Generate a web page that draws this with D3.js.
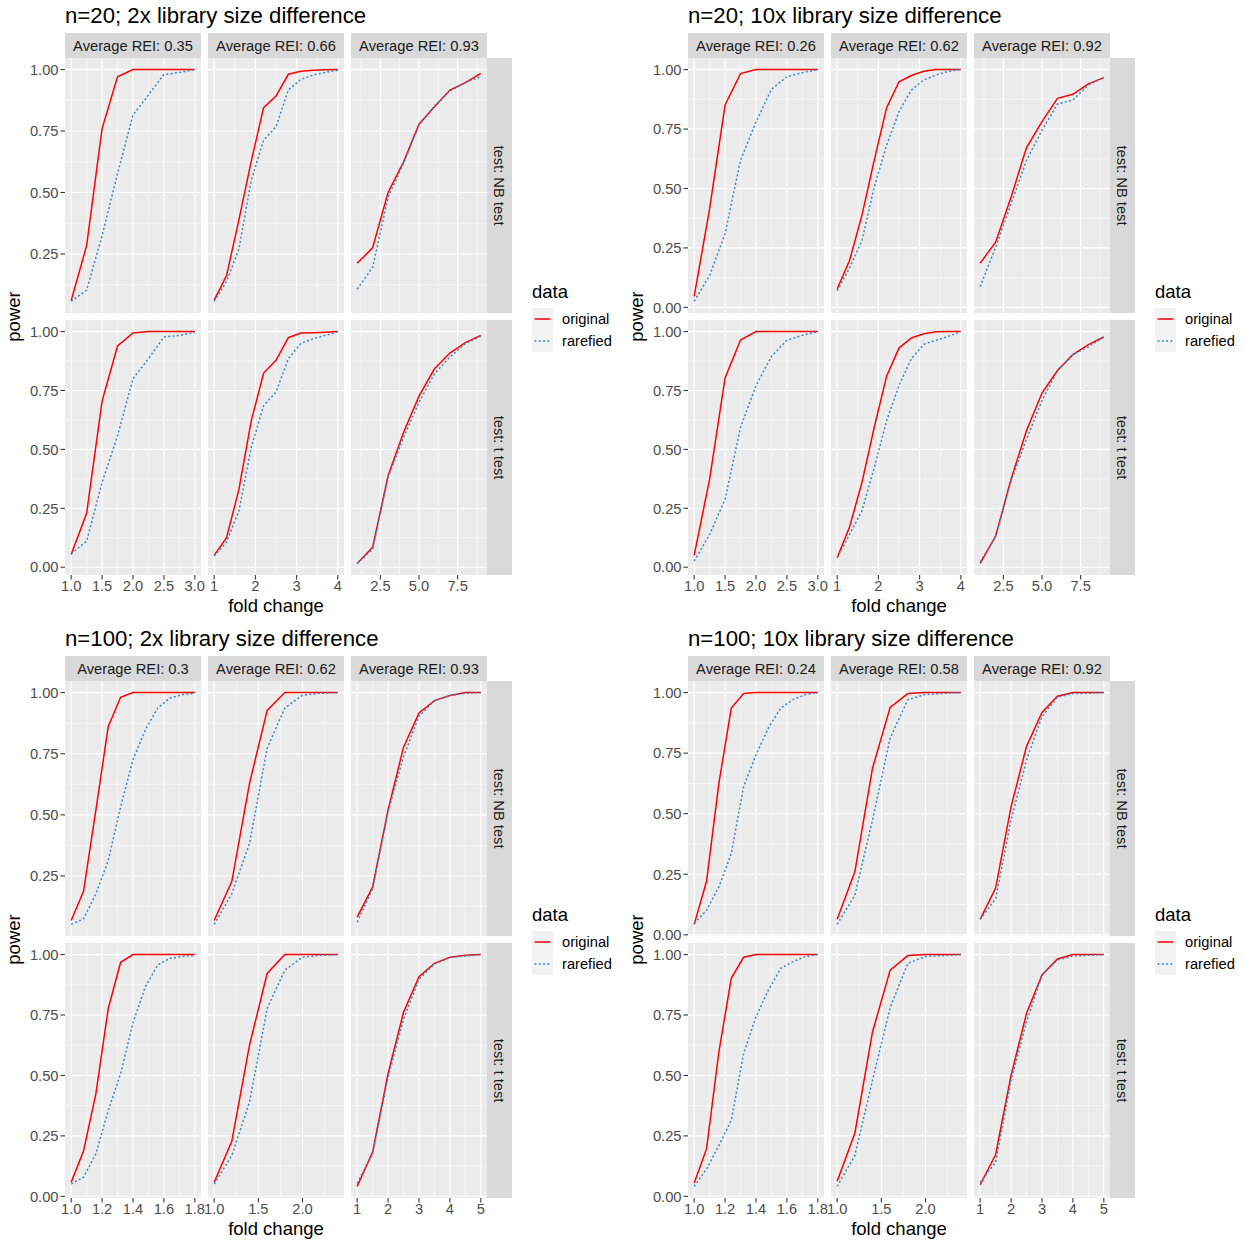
<!DOCTYPE html>
<html>
<head>
<meta charset="utf-8">
<script src="https://cdn.jsdelivr.net/npm/d3@7"></script>
<style>
body { margin: 0; background: #fff; }
text { font-family: "Liberation Sans", Arial, sans-serif; }
</style>
</head>
<body>
<div id="chart"></div>
<script>
// power curves, original vs rarefied, 4 ggplot-style facet grids

var titles = ["n=20; 2x library size difference", "n=20; 10x library size difference",
              "n=100; 2x library size difference", "n=100; 10x library size difference"];
var reiLabels = [[0.35, 0.66, 0.93], [0.26, 0.62, 0.92], [0.3, 0.62, 0.93], [0.24, 0.58, 0.92]];
var tests = ["NB test", "t test"];
var seriesNames = ["original", "rarefied"];

// fold change values per column
var xN20 = [
    [1, 1.25, 1.5, 1.75, 2, 2.25, 2.5, 2.75, 3],
    [1, 1.3, 1.6, 1.9, 2.2, 2.5, 2.8, 3.1, 3.4, 3.7, 4],
    [1, 2, 3, 4, 5, 6, 7, 8, 9]
];
var xN100 = [
    [1, 1.08, 1.16, 1.24, 1.32, 1.4, 1.48, 1.56, 1.64, 1.72, 1.8],
    [1, 1.2, 1.4, 1.6, 1.8, 2, 2.2, 2.4],
    [1, 1.5, 2, 2.5, 3, 3.5, 4, 4.5, 5]
];
var xTicksN20 = [[1, 1.5, 2, 2.5, 3], [1, 2, 3, 4], [2.5, 5, 7.5]];
var xLabelsN20 = [["1.0", "1.5", "2.0", "2.5", "3.0"], ["1", "2", "3", "4"], ["2.5", "5.0", "7.5"]];
var xTicksN100 = [[1, 1.2, 1.4, 1.6, 1.8], [1, 1.5, 2], [1, 2, 3, 4, 5]];
var xLabelsN100 = [["1.0", "1.2", "1.4", "1.6", "1.8"], ["1.0", "1.5", "2.0"], ["1", "2", "3", "4", "5"]];
var yTicks = [0, 0.25, 0.5, 0.75, 1];
var yLabels = ["0.00", "0.25", "0.50", "0.75", "1.00"];

// power values: [test][column]
var q1Original = [
    [[0.06, 0.284, 0.76, 0.971, 1, 1, 1, 1, 1],
     [0.062, 0.162, 0.389, 0.628, 0.845, 0.892, 0.981, 0.993, 0.997, 0.999, 1],
     [0.212, 0.275, 0.5, 0.624, 0.778, 0.849, 0.917, 0.947, 0.985]],
    [[0.054, 0.229, 0.705, 0.939, 0.994, 1, 1, 1, 1],
     [0.05, 0.125, 0.33, 0.622, 0.824, 0.878, 0.974, 0.994, 0.995, 0.997, 1],
     [0.016, 0.085, 0.388, 0.572, 0.726, 0.842, 0.909, 0.953, 0.984]]
];
var q1Rarefied = [
    [[0.057, 0.103, 0.325, 0.577, 0.815, 0.897, 0.98, 0.988, 1],
     [0.057, 0.138, 0.27, 0.55, 0.713, 0.767, 0.917, 0.96, 0.978, 0.989, 0.997],
     [0.107, 0.196, 0.481, 0.618, 0.774, 0.852, 0.913, 0.947, 0.971]],
    [[0.057, 0.111, 0.36, 0.558, 0.8, 0.885, 0.977, 0.984, 0.997],
     [0.047, 0.107, 0.239, 0.509, 0.686, 0.743, 0.885, 0.949, 0.97, 0.984, 0.999],
     [0.016, 0.075, 0.381, 0.551, 0.7, 0.821, 0.892, 0.949, 0.98]]
];
var q2Original = [
    [[0.046, 0.415, 0.851, 0.983, 1, 1, 1, 1, 1],
     [0.077, 0.197, 0.387, 0.619, 0.84, 0.949, 0.975, 0.993, 1, 1, 1],
     [0.186, 0.274, 0.464, 0.672, 0.781, 0.879, 0.896, 0.94, 0.966]],
    [[0.05, 0.374, 0.803, 0.964, 1, 1, 1, 1, 1],
     [0.04, 0.17, 0.359, 0.594, 0.811, 0.93, 0.973, 0.991, 0.999, 1, 1],
     [0.016, 0.132, 0.374, 0.58, 0.739, 0.835, 0.902, 0.945, 0.977]]
];
var q2Rarefied = [
    [[0.025, 0.134, 0.31, 0.619, 0.78, 0.917, 0.97, 0.987, 1],
     [0.07, 0.166, 0.281, 0.506, 0.682, 0.823, 0.914, 0.956, 0.977, 0.993, 1],
     [0.087, 0.253, 0.436, 0.619, 0.745, 0.855, 0.872, 0.935, 0.966]],
    [[0.026, 0.139, 0.288, 0.594, 0.771, 0.895, 0.963, 0.984, 1],
     [0.04, 0.139, 0.239, 0.423, 0.622, 0.771, 0.885, 0.946, 0.963, 0.98, 1],
     [0.023, 0.128, 0.366, 0.544, 0.707, 0.835, 0.903, 0.935, 0.977]]
];
var q3Original = [
    [[0.068, 0.187, 0.52, 0.862, 0.981, 1, 1, 1, 1, 1, 1],
     [0.068, 0.228, 0.629, 0.927, 1, 1, 1, 1],
     [0.082, 0.205, 0.52, 0.777, 0.917, 0.967, 0.988, 1, 1]],
    [[0.058, 0.187, 0.425, 0.777, 0.968, 1, 1, 1, 1, 1, 1],
     [0.058, 0.228, 0.625, 0.922, 1, 1, 1, 1],
     [0.041, 0.183, 0.508, 0.761, 0.909, 0.964, 0.989, 0.997, 1]]
];
var q3Rarefied = [
    [[0.052, 0.075, 0.177, 0.314, 0.533, 0.725, 0.848, 0.937, 0.978, 0.992, 0.997],
     [0.052, 0.178, 0.383, 0.773, 0.937, 0.989, 0.997, 1],
     [0.061, 0.198, 0.513, 0.739, 0.903, 0.967, 0.988, 0.997, 1]],
    [[0.051, 0.079, 0.176, 0.355, 0.508, 0.718, 0.867, 0.957, 0.985, 0.992, 0.997],
     [0.051, 0.169, 0.39, 0.777, 0.936, 0.989, 0.997, 1],
     [0.054, 0.176, 0.494, 0.732, 0.898, 0.961, 0.988, 0.994, 1]]
];
var q4Original = [
    [[0.043, 0.221, 0.626, 0.936, 0.996, 1, 1, 1, 1, 1, 1],
     [0.064, 0.26, 0.688, 0.939, 0.996, 1, 1, 1],
     [0.064, 0.193, 0.529, 0.778, 0.918, 0.985, 1, 1, 1]],
    [[0.055, 0.196, 0.598, 0.902, 0.989, 1, 1, 1, 1, 1, 1],
     [0.062, 0.261, 0.68, 0.936, 0.996, 1, 1, 1],
     [0.048, 0.173, 0.501, 0.757, 0.916, 0.982, 1, 1, 1]]
];
var q4Rarefied = [
    [[0.048, 0.101, 0.198, 0.336, 0.612, 0.743, 0.854, 0.936, 0.971, 0.992, 1],
     [0.043, 0.163, 0.474, 0.812, 0.971, 0.992, 0.997, 1],
     [0.064, 0.149, 0.474, 0.722, 0.902, 0.981, 0.996, 0.997, 1]],
    [[0.041, 0.113, 0.21, 0.314, 0.591, 0.743, 0.853, 0.943, 0.971, 0.992, 1],
     [0.041, 0.169, 0.48, 0.781, 0.964, 0.992, 0.996, 1],
     [0.058, 0.141, 0.48, 0.722, 0.916, 0.978, 0.994, 0.997, 1]]
];

var quads = [
    { ox: 0,   oy: 0,   title: titles[0], rei: reiLabels[0], xs: xN20,  ticks: xTicksN20,  labels: xLabelsN20,  orig: q1Original, rare: q1Rarefied },
    { ox: 623, oy: 0,   title: titles[1], rei: reiLabels[1], xs: xN20,  ticks: xTicksN20,  labels: xLabelsN20,  orig: q2Original, rare: q2Rarefied },
    { ox: 0,   oy: 623, title: titles[2], rei: reiLabels[2], xs: xN100, ticks: xTicksN100, labels: xLabelsN100, orig: q3Original, rare: q3Rarefied },
    { ox: 623, oy: 623, title: titles[3], rei: reiLabels[3], xs: xN100, ticks: xTicksN100, labels: xLabelsN100, orig: q4Original, rare: q4Rarefied }
];

var colors = { original: "#FF0000", rarefied: "#3A85C6" };

var svg = d3.select("#chart").append("svg")
    .attr("width", 1245)
    .attr("height", 1241);

var panelLeft = [65, 208, 351], panelW = 136;
var rowTop = [58, 320], panelH = 255;
var stripH = 25, stripW = 25;

// ggplot-like 5% expansion
function expand(ext) {
    var d = ext[1] - ext[0];
    return [ext[0] - 0.05 * d, ext[1] + 0.05 * d];
}

// minor breaks = midpoints of majors (extended one step each side)
function minors(ticks, dom) {
    var step = ticks[1] - ticks[0];
    var all = [ticks[0] - step].concat(ticks, [ticks[ticks.length - 1] + step]);
    var out = [];
    for (var i = 0; i < all.length - 1; i++) out.push((all[i] + all[i + 1]) / 2);
    return out.filter(function(v) { return v >= dom[0] && v <= dom[1]; });
}

function inDom(v, dom) { return v >= dom[0] && v <= dom[1]; }

quads.forEach(function(q) {
    var g = svg.append("g").attr("transform", "translate(" + q.ox + "," + q.oy + ")");

    g.append("text")
        .attr("x", 65).attr("y", 23)
        .style("font-size", "22.2px").style("fill", "#000")
        .text(q.title);

    // x scales per column
    var xScales = q.xs.map(function(xv, c) {
        return d3.scaleLinear().domain(expand(d3.extent(xv)))
            .range([panelLeft[c], panelLeft[c] + panelW]);
    });
    // y scales per row
    var yScales = [0, 1].map(function(r) {
        var all = d3.merge(q.orig[r].concat(q.rare[r]));
        return d3.scaleLinear().domain(expand(d3.extent(all)))
            .range([rowTop[r] + panelH, rowTop[r]]);
    });

    // top strips
    q.rei.forEach(function(v, c) {
        g.append("rect")
            .attr("x", panelLeft[c]).attr("y", rowTop[0] - stripH)
            .attr("width", panelW).attr("height", stripH)
            .style("fill", "#D9D9D9");
        g.append("text")
            .attr("x", panelLeft[c] + panelW / 2).attr("y", rowTop[0] - stripH / 2)
            .attr("dy", "0.36em")
            .style("text-anchor", "middle").style("font-size", "14.7px").style("fill", "#1A1A1A")
            .text("Average REI: " + v);
    });

    [0, 1].forEach(function(r) {
        var y = yScales[r];
        var yDom = y.domain();

        // right strip
        var sx = panelLeft[2] + panelW;
        g.append("rect")
            .attr("x", sx).attr("y", rowTop[r])
            .attr("width", stripW).attr("height", panelH)
            .style("fill", "#D9D9D9");
        g.append("text")
            .attr("transform", "translate(" + (sx + stripW / 2) + "," + (rowTop[r] + panelH / 2) + ") rotate(90)")
            .attr("dy", "0.36em")
            .style("text-anchor", "middle").style("font-size", "14.7px").style("fill", "#1A1A1A")
            .text("test: " + tests[r]);

        // y axis labels + ticks
        yTicks.forEach(function(t, i) {
            if (!inDom(t, yDom)) return;
            g.append("line")
                .attr("x1", panelLeft[0] - 4.5).attr("x2", panelLeft[0])
                .attr("y1", y(t)).attr("y2", y(t))
                .style("stroke", "#333333").style("stroke-width", 1.07);
            g.append("text")
                .attr("x", panelLeft[0] - 6.5).attr("y", y(t))
                .attr("dy", "0.36em")
                .style("text-anchor", "end").style("font-size", "14.7px").style("fill", "#4D4D4D")
                .text(yLabels[i]);
        });

        q.xs.forEach(function(xv, c) {
            var x = xScales[c];
            var xDom = x.domain();
            var p = g.append("g");

            p.append("rect")
                .attr("x", panelLeft[c]).attr("y", rowTop[r])
                .attr("width", panelW).attr("height", panelH)
                .style("fill", "#EBEBEB");

            // minor grid
            minors(yTicks, yDom).forEach(function(t) {
                p.append("line").attr("x1", panelLeft[c]).attr("x2", panelLeft[c] + panelW)
                    .attr("y1", y(t)).attr("y2", y(t))
                    .style("stroke", "#fff").style("stroke-width", 0.55);
            });
            minors(q.ticks[c], xDom).forEach(function(t) {
                p.append("line").attr("x1", x(t)).attr("x2", x(t))
                    .attr("y1", rowTop[r]).attr("y2", rowTop[r] + panelH)
                    .style("stroke", "#fff").style("stroke-width", 0.55);
            });
            // major grid
            yTicks.filter(function(t) { return inDom(t, yDom); }).forEach(function(t) {
                p.append("line").attr("x1", panelLeft[c]).attr("x2", panelLeft[c] + panelW)
                    .attr("y1", y(t)).attr("y2", y(t))
                    .style("stroke", "#fff").style("stroke-width", 1.1);
            });
            q.ticks[c].forEach(function(t) {
                p.append("line").attr("x1", x(t)).attr("x2", x(t))
                    .attr("y1", rowTop[r]).attr("y2", rowTop[r] + panelH)
                    .style("stroke", "#fff").style("stroke-width", 1.1);
            });

            // lines
            var line = d3.line()
                .x(function(d) { return x(d[0]); })
                .y(function(d) { return y(d[1]); });
            var origPts = xv.map(function(v, i) { return [v, q.orig[r][c][i]]; });
            var rarePts = xv.map(function(v, i) { return [v, q.rare[r][c][i]]; });
            p.append("path").datum(origPts)
                .attr("d", line)
                .style("fill", "none").style("stroke", colors.original).style("stroke-width", 1.5);
            p.append("path").datum(rarePts)
                .attr("d", line)
                .style("fill", "none").style("stroke", colors.rarefied).style("stroke-width", 1.5)
                .style("stroke-dasharray", "2,2.3");

            // x axis at bottom row
            if (r === 1) {
                q.ticks[c].forEach(function(t, i) {
                    g.append("line")
                        .attr("x1", x(t)).attr("x2", x(t))
                        .attr("y1", rowTop[1] + panelH).attr("y2", rowTop[1] + panelH + 4.5)
                        .style("stroke", "#333333").style("stroke-width", 1.07);
                    g.append("text")
                        .attr("x", x(t)).attr("y", rowTop[1] + panelH + 16)
                        .style("text-anchor", "middle").style("font-size", "14.7px").style("fill", "#4D4D4D")
                        .text(q.labels[c][i]);
                });
            }
        });
    });

    // axis titles
    g.append("text")
        .attr("x", (panelLeft[0] + panelLeft[2] + panelW) / 2).attr("y", 611.5)
        .style("text-anchor", "middle").style("font-size", "18.5px").style("fill", "#000")
        .text("fold change");
    g.append("text")
        .attr("transform", "translate(20," + (rowTop[0] + rowTop[1] + panelH) / 2 + ") rotate(-90)")
        .style("text-anchor", "middle").style("font-size", "18.5px").style("fill", "#000")
        .text("power");

    // legend
    var lg = g.append("g").attr("transform", "translate(532,0)");
    lg.append("text").attr("x", 0).attr("y", 298)
        .style("font-size", "18.5px").style("fill", "#000").text("data");
    seriesNames.forEach(function(s, i) {
        var ky = 308 + i * 22;
        lg.append("rect").attr("x", 0).attr("y", ky).attr("width", 21).attr("height", 22)
            .style("fill", "#F2F2F2");
        lg.append("line").attr("x1", 2.5).attr("x2", 18.5)
            .attr("y1", ky + 11).attr("y2", ky + 11)
            .style("stroke", colors[s]).style("stroke-width", 1.5)
            .style("stroke-dasharray", s === "rarefied" ? "2,2.3" : null);
        lg.append("text").attr("x", 30).attr("y", ky + 11).attr("dy", "0.36em")
            .style("font-size", "14.7px").style("fill", "#000").text(s);
    });
});
</script>
</body>
</html>
